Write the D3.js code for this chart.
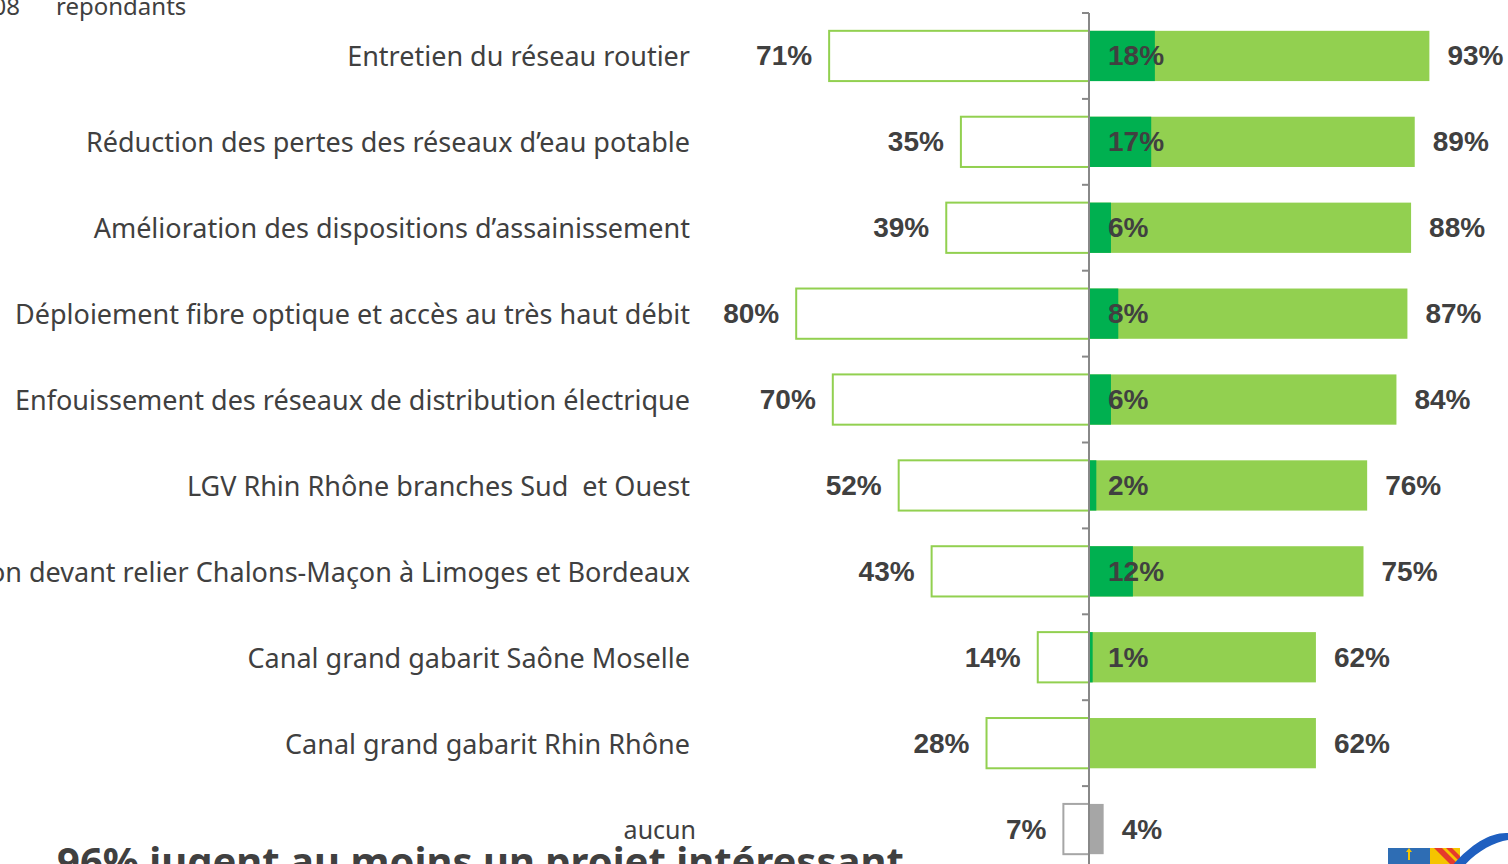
<!DOCTYPE html>
<html><head><meta charset="utf-8">
<script src="https://cdn.jsdelivr.net/npm/d3@7"></script>
<style>
html,body{margin:0;padding:0;background:#fff;overflow:hidden}
svg{display:block}
</style></head>
<body>
<script>
const categories = [
  "Entretien du réseau routier",
  "Réduction des pertes des réseaux d’eau potable",
  "Amélioration des dispositions d’assainissement",
  "Déploiement fibre optique et accès au très haut débit",
  "Enfouissement des réseaux de distribution électrique",
  "LGV Rhin Rhône branches Sud  et Ouest",
  "Liaison devant relier Chalons-Maçon à Limoges et Bordeaux",
  "Canal grand gabarit Saône Moselle",
  "Canal grand gabarit Rhin Rhône",
  "aucun"
];
const leftValues  = [71, 35, 39, 80, 70, 52, 43, 14, 28, 7];
const totalValues = [93, 89, 88, 87, 84, 76, 75, 62, 62, 4];
const firstValues = [18, 17, 6, 8, 6, 2, 12, 1, 0, 0];
const showFirst   = [true, true, true, true, true, true, true, true, false, false];
const headerLabels = ["1 008", "repondants"];
const footerText = "96% jugent au moins un projet intéressant";

const W = 1508, H = 864;
const axisX = 1089;
const svg = d3.select("body").append("svg").attr("width", W).attr("height", H)
  .style("font-family", "'Noto Sans', 'Open Sans', sans-serif");

const x = d3.scaleLinear().domain([-100, 100]).range([axisX - 366, axisX + 366]);
const y = d3.scaleBand().domain(categories).range([13, 872]).paddingInner(0.415).paddingOuter(0.2075);

const green = "#92D050", dark = "#00B050", grey = "#A6A6A6", txt = "#404040";
const isLast = (i) => i === categories.length - 1;

const rows = categories.map((c, i) => ({c, i, l: leftValues[i], t: totalValues[i], f: firstValues[i], s: showFirst[i]}));

// left outlined bars
svg.selectAll(".lb").data(rows).enter().append("rect")
  .attr("x", d => x(-d.l)).attr("y", d => y(d.c))
  .attr("width", d => x(0) - x(-d.l)).attr("height", y.bandwidth())
  .attr("fill", "#fff").attr("stroke", d => isLast(d.i) ? grey : green).attr("stroke-width", 2);

// right total bars
svg.selectAll(".rb").data(rows).enter().append("rect")
  .attr("x", x(0)).attr("y", d => y(d.c))
  .attr("width", d => x(d.t) - x(0)).attr("height", y.bandwidth())
  .attr("fill", d => isLast(d.i) ? grey : green);

// dark first-choice bars
svg.selectAll(".fb").data(rows).enter().append("rect")
  .attr("x", x(0)).attr("y", d => y(d.c))
  .attr("width", d => x(d.f) - x(0)).attr("height", y.bandwidth())
  .attr("fill", dark);

// axis line with ticks at band boundaries
const ax = svg.append("g").attr("transform", `translate(${axisX},0)`);
const bounds = categories.map(c => y(c) - y.step() * y.paddingInner() / 2);
ax.selectAll(".bt").data(bounds).enter().append("line")
  .attr("x1", -7).attr("x2", 0).attr("y1", d => d).attr("y2", d => d)
  .attr("stroke", "#888").attr("stroke-width", 2);
ax.append("line").attr("x1", 0).attr("x2", 0).attr("y1", bounds[0]).attr("y2", H + 10)
  .attr("stroke", "#888").attr("stroke-width", 2);

// category labels
svg.selectAll(".cl").data(rows).enter().append("text")
  .attr("x", d => isLast(d.i) ? 696 : 690)
  .attr("y", d => y(d.c) + y.bandwidth() / 2)
  .attr("text-anchor", "end").attr("dominant-baseline", "central")
  .attr("font-size", d => isLast(d.i) ? 25 : 27)
  .attr("fill", txt)
  .style("white-space", "pre")
  .text(d => d.c);

// value labels
const valFont = "'Liberation Sans', Arial, sans-serif";
svg.selectAll(".lv").data(rows).enter().append("text")
  .attr("x", d => x(-d.l) - 17).attr("y", d => y(d.c) + y.bandwidth() / 2)
  .attr("text-anchor", "end").attr("dominant-baseline", "central")
  .style("font-family", valFont)
  .attr("font-size", 28).attr("font-weight", "bold").attr("fill", txt)
  .text(d => d.l + "%");
svg.selectAll(".tv").data(rows).enter().append("text")
  .attr("x", d => x(d.t) + 18).attr("y", d => y(d.c) + y.bandwidth() / 2)
  .attr("text-anchor", "start").attr("dominant-baseline", "central")
  .style("font-family", valFont)
  .attr("font-size", 28).attr("font-weight", "bold").attr("fill", txt)
  .text(d => d.t + "%");
svg.selectAll(".fv").data(rows.filter(d => d.s)).enter().append("text")
  .attr("x", x(0) + 19).attr("y", d => y(d.c) + y.bandwidth() / 2)
  .attr("text-anchor", "start").attr("dominant-baseline", "central")
  .style("font-family", valFont)
  .attr("font-size", 28).attr("font-weight", "bold").attr("fill", txt)
  .text(d => d.f + "%");

// header
svg.append("text").attr("x", 20).attr("y", 15).attr("text-anchor", "end")
  .attr("font-size", 24).attr("fill", txt).text(headerLabels[0]);
svg.append("text").attr("x", 56).attr("y", 15)
  .attr("font-size", 24).attr("fill", txt).text(headerLabels[1]);

// footer
svg.append("text").attr("x", 57).attr("y", 876)
  .attr("font-size", 40).attr("font-weight", "bold").attr("fill", txt).text(footerText);

// logo (decorative)
const logo = svg.append("g");
logo.append("rect").attr("x", 1388).attr("y", 848).attr("width", 42).attr("height", 20).attr("fill", "#2E6DB4");
logo.append("path").attr("d", "M1406,852 l3,-4 l3,4 l-2,0 l0,8 l-2,0 l0,-8 z").attr("fill", "#F5C400");
logo.append("rect").attr("x", 1430).attr("y", 848).attr("width", 30).attr("height", 20).attr("fill", "#F5C400");
logo.append("path").attr("d", "M1434,848 L1442,848 L1458,864 L1450,864 Z").attr("fill", "#E53A2C");
logo.append("path").attr("d", "M1446,848 L1452,848 L1460,856 L1460,862 Z").attr("fill", "#E53A2C");
logo.append("path").attr("d", "M1452,866 C1470,845 1490,832 1508,833 L1508,840 C1494,842 1476,852 1464,866 Z").attr("fill", "#1F5FC0");
</script>
</body></html>
